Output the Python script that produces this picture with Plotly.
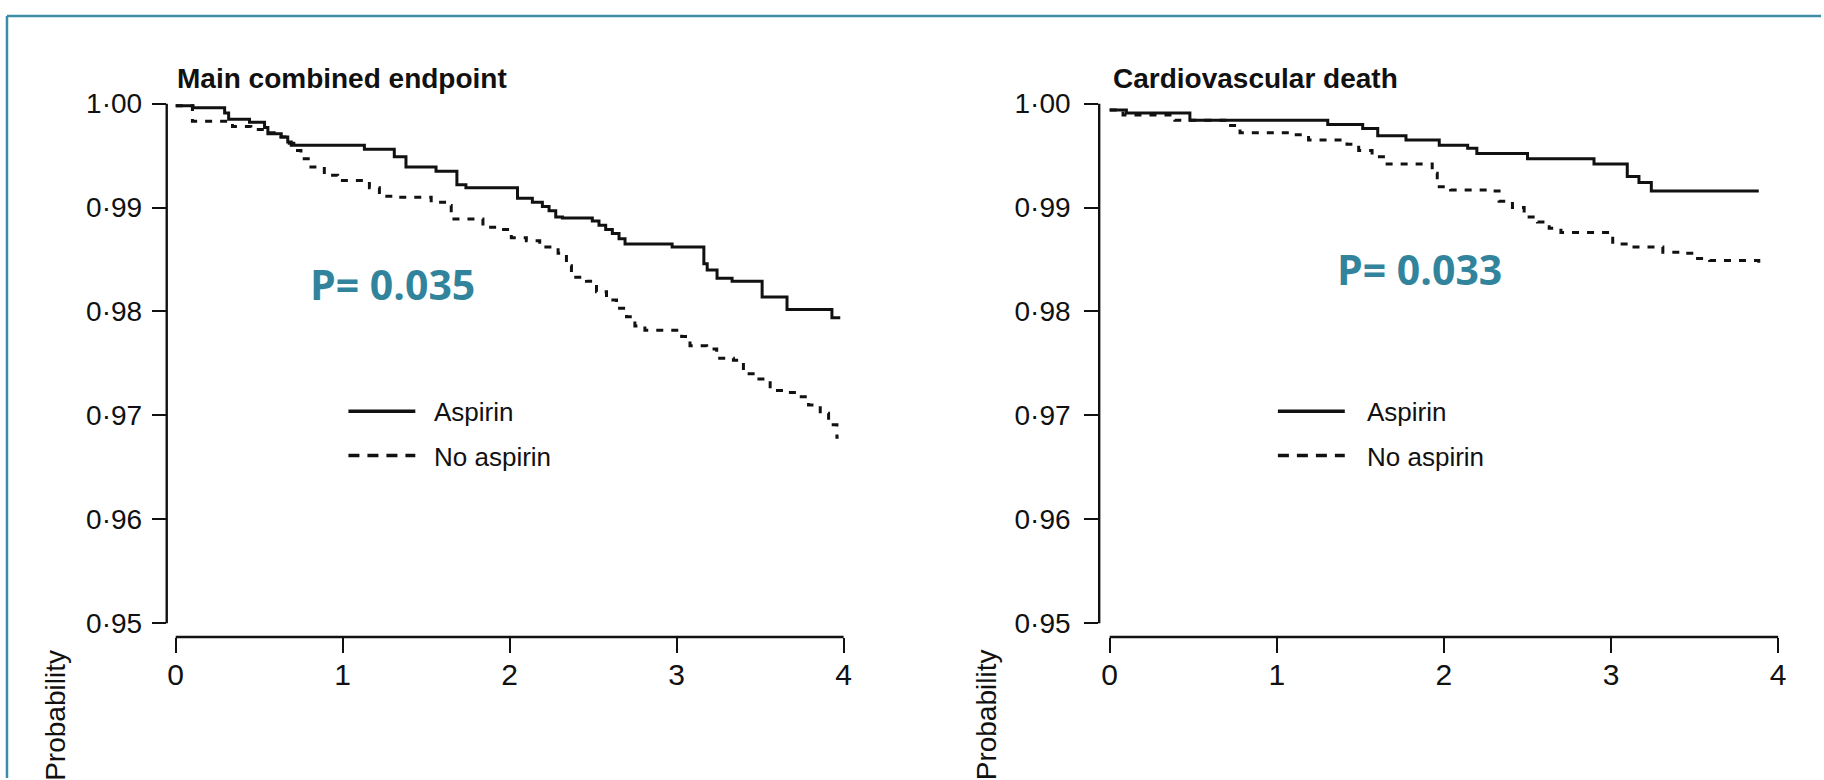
import plotly.graph_objects as go

W, H = 1824, 780

# ---------------- data ----------------
panel_titles = ["Main combined endpoint", "Cardiovascular death"]
p_values = ["P= 0.035", "P= 0.033"]
series_names = ["Aspirin", "No aspirin"]

x_tick_vals = [0, 1, 2, 3, 4]
x_tick_text = ["0", "1", "2", "3", "4"]
y_tick_vals = [0.95, 0.96, 0.97, 0.98, 0.99, 1.00]
y_tick_text = ["0·95", "0·96", "0·97", "0·98", "0·99", "1·00"]

# Main combined endpoint
main_asp_t = [0, 0.104, 0.293, 0.317, 0.442, 0.532, 0.552, 0.632, 0.671, 0.692,
              1.130, 1.309, 1.379, 1.559, 1.684, 1.738, 2.047, 2.136, 2.196, 2.236,
              2.276, 2.316, 2.495, 2.535, 2.575, 2.615, 2.655, 2.691, 2.973, 3.163,
              3.183, 3.242, 3.332, 3.512, 3.661, 3.930, 3.980]
main_asp_s = [0.9998, 0.9996, 0.9991, 0.9985, 0.9982, 0.9977, 0.9971, 0.9968, 0.9963, 0.9960,
              0.9956, 0.9949, 0.9939, 0.9935, 0.9922, 0.9919, 0.9909, 0.9905, 0.9901, 0.9897,
              0.9891, 0.9890, 0.9887, 0.9883, 0.9879, 0.9875, 0.9870, 0.9865, 0.9862, 0.9846,
              0.9840, 0.9832, 0.9829, 0.9814, 0.9802, 0.9794, 0.9794]
main_noasp_t = [0, 0.10, 0.34, 0.45, 0.53, 0.63, 0.68, 0.72, 0.75, 0.81,
                0.89, 0.97, 1.16, 1.22, 1.32, 1.53, 1.62, 1.65, 1.84, 1.94,
                2.01, 2.10, 2.18, 2.29, 2.34, 2.37, 2.46, 2.52, 2.58, 2.64,
                2.70, 2.75, 2.81, 3.03, 3.08, 3.18, 3.24, 3.34, 3.40, 3.48,
                3.56, 3.66, 3.73, 3.79, 3.86, 3.91, 3.96, 3.97]
main_noasp_s = [0.9998, 0.9983, 0.9978, 0.9975, 0.9972, 0.9968, 0.9962, 0.9955, 0.9947, 0.9939,
                0.9931, 0.9926, 0.9919, 0.9911, 0.9910, 0.9905, 0.9902, 0.9889, 0.9881, 0.9879,
                0.9871, 0.9868, 0.9862, 0.9856, 0.9844, 0.9833, 0.9829, 0.9819, 0.9811, 0.9803,
                0.9795, 0.9786, 0.9782, 0.9776, 0.9767, 0.9764, 0.9755, 0.9753, 0.9740, 0.9735,
                0.9724, 0.9722, 0.9718, 0.9710, 0.9702, 0.9691, 0.9679, 0.9679]

# Cardiovascular death
cv_asp_t = [0, 0.10, 0.48, 1.305, 1.514, 1.604, 1.773, 1.972, 2.142, 2.197,
            2.500, 2.898, 3.097, 3.167, 3.241, 3.884]
cv_asp_s = [0.9994, 0.9991, 0.9984, 0.9980, 0.9976, 0.9969, 0.9965, 0.9960, 0.9957, 0.9952,
            0.9947, 0.9942, 0.9930, 0.9924, 0.9916, 0.9916]
cv_noasp_t = [0, 0.08, 0.39, 0.70, 0.78, 1.10, 1.19, 1.42, 1.49, 1.57,
              1.65, 1.93, 1.96, 2.04, 2.26, 2.33, 2.41, 2.48, 2.56, 2.63,
              2.70, 3.01, 3.10, 3.31, 3.41, 3.50, 3.59, 3.884]
cv_noasp_s = [0.9994, 0.9989, 0.9984, 0.9979, 0.9972, 0.9970, 0.9965, 0.9961, 0.9955, 0.9949,
              0.9942, 0.9933, 0.9920, 0.9917, 0.9916, 0.9906, 0.9900, 0.9891, 0.9886, 0.9880,
              0.9876, 0.9865, 0.9862, 0.9857, 0.9856, 0.9851, 0.9849, 0.9840]

# ---------------- layout helpers ----------------
def fx(px):
    return px / W

def fy(py):
    return 1 - py / H

TEAL = "#31849B"
FRAME = "#3B8EA5"
INK = "#111111"
SANS = "Liberation Sans, Arial, sans-serif"

# pixel geometry
y_px_top, y_px_bottom = 90, 637          # plot domain (px)
y_at = lambda py: 1.0 - (py - 96) / 10540.0
yrange = [y_at(y_px_bottom), y_at(y_px_top)]

panels = [
    dict(ax_px=167, x0_px=176, ppu=167.25, right_px=850, legx=349, textx=433,
         titlex=177, px=311, py=277, probx=56, ystand=4,
         t=(main_asp_t, main_noasp_t), s=(main_asp_s, main_noasp_s)),
    dict(ax_px=1101, x0_px=1111.5, ppu=167.4, right_px=1786, legx=1280, textx=1367,
         titlex=1115, px=1339, py=262, probx=989, ystand=8,
         t=(cv_asp_t, cv_noasp_t), s=(cv_asp_s, cv_noasp_s)),
]

fig = go.Figure()
shapes = []
annotations = []
layout_axes = {}

for i, p in enumerate(panels):
    k = "" if i == 0 else str(i + 1)
    xr = [(p["ax_px"] - p["x0_px"]) / p["ppu"], (p["right_px"] - p["x0_px"]) / p["ppu"]]
    layout_axes["xaxis" + k] = dict(
        domain=[fx(p["ax_px"]), fx(p["right_px"])], range=xr, anchor="y" + k,
        showline=False, showgrid=False, zeroline=False,
        tickmode="array", tickvals=x_tick_vals, ticktext=x_tick_text,
        ticks="outside", ticklen=15, tickwidth=2.2, tickcolor=INK,
        tickfont=dict(family=SANS, size=30, color=INK), ticklabelstandoff=-4,
    )
    layout_axes["yaxis" + k] = dict(
        domain=[fy(y_px_bottom), fy(y_px_top)], range=yrange, anchor="x" + k,
        showline=False, showgrid=False, zeroline=False,
        tickmode="array", tickvals=y_tick_vals, ticktext=y_tick_text,
        ticks="outside", ticklen=14, tickwidth=2.2, tickcolor=INK,
        tickfont=dict(family=SANS, size=28, color=INK), ticklabelstandoff=p["ystand"],
    )
    xref, yref = "x" + k, "y" + k
    # axis lines
    shapes.append(dict(type="line", xref=xref, yref=yref + " domain", x0=0, x1=4, y0=0, y1=0,
                       line=dict(color=INK, width=2.4)))
    shapes.append(dict(type="line", xref=xref + " domain", yref=yref, x0=0, x1=0,
                       y0=0.95, y1=1.0, line=dict(color=INK, width=2.4)))
    # curves
    for j, name in enumerate(series_names):
        fig.add_trace(go.Scatter(
            x=p["t"][j], y=p["s"][j], mode="lines", name=name, showlegend=False,
            line=dict(color=INK, width=3, shape="hv",
                      dash="solid" if j == 0 else "7px,8px"),
            xaxis=xref, yaxis=yref,
        ))
    # legend (drawn)
    for j, (name, ly) in enumerate(zip(series_names, [408, 453])):
        shapes.append(dict(type="line", xref="paper", yref="paper",
                           x0=fx(p["legx"]), x1=fx(p["legx"] + 67), y0=fy(ly), y1=fy(ly),
                           line=dict(color=INK, width=3.5,
                                     dash="solid" if j == 0 else "11px,8px")))
        annotations.append(dict(xref="paper", yref="paper", x=fx(p["textx"]), y=fy(ly + 1),
                                xanchor="left", yanchor="middle", showarrow=False, text=name,
                                font=dict(family=SANS, size=26, color=INK)))
    # title
    annotations.append(dict(xref="paper", yref="paper", x=fx(p["titlex"] - 2), y=fy(70),
                            xanchor="left", yanchor="middle", showarrow=False,
                            text="<b>" + panel_titles[i] + "</b>",
                            font=dict(family=SANS, size=28, color=INK)))
    # p-value
    annotations.append(dict(xref="paper", yref="paper", x=fx(p["px"] - 2), y=fy(p["py"] + 2),
                            xanchor="left", yanchor="middle", showarrow=False,
                            text="<b>" + p_values[i] + "</b>",
                            font=dict(family="Open Sans, sans-serif", size=41, color=TEAL)))
    # rotated y label
    annotations.append(dict(xref="paper", yref="paper", x=fx(p["probx"]), y=fy(716),
                            xanchor="center", yanchor="middle", showarrow=False,
                            text="Probability", textangle=-90,
                            font=dict(family=SANS, size=28, color=INK)))

# frame (top and left)
shapes.append(dict(type="line", xref="paper", yref="paper", x0=fx(7), x1=1.0, y0=fy(7), y1=fy(7),
                   line=dict(color=FRAME, width=2.5)))
shapes.append(dict(type="line", xref="paper", yref="paper", x0=fx(7), x1=fx(7), y0=fy(7), y1=0,
                   line=dict(color=FRAME, width=2.5)))

fig.update_layout(
    width=W, height=H, margin=dict(l=0, r=0, t=0, b=0),
    paper_bgcolor="white", plot_bgcolor="white",
    shapes=shapes, annotations=annotations, showlegend=False,
    **layout_axes,
)

fig.write_html("out.html")
